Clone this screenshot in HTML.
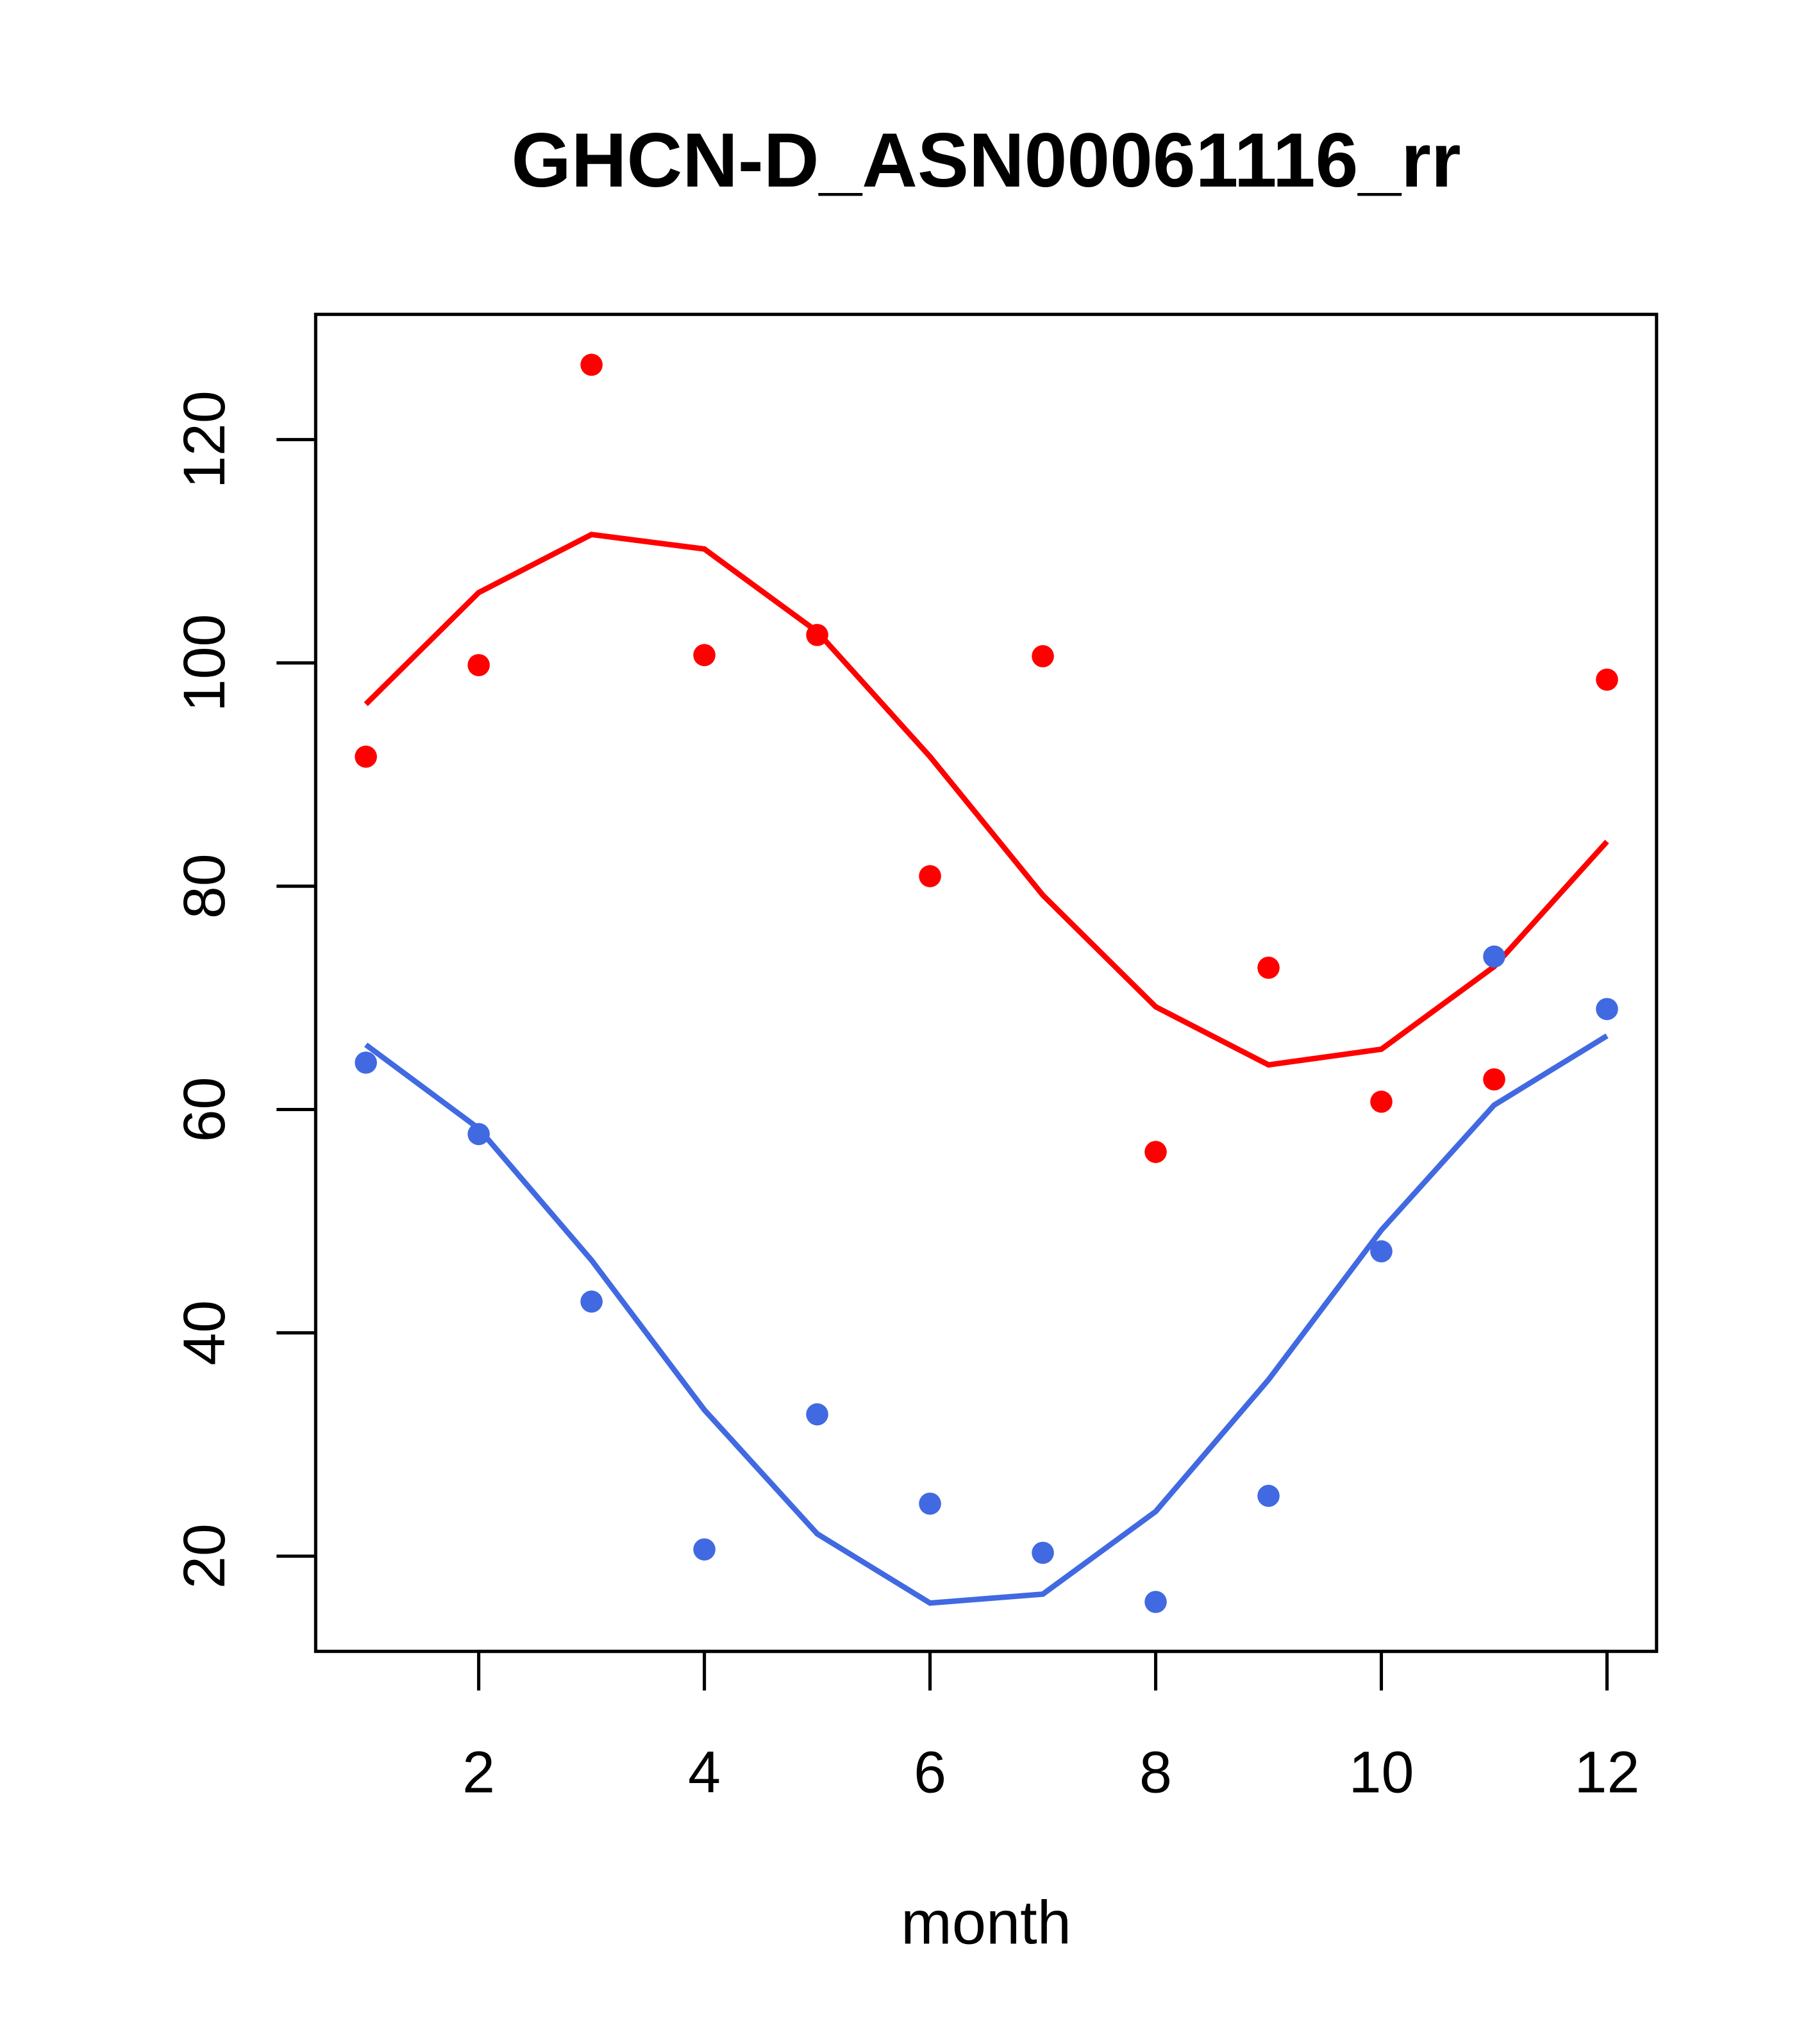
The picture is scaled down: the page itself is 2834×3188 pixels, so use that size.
<!DOCTYPE html>
<html><head><meta charset="utf-8"><style>html,body{margin:0;padding:0;background:#fff}svg{display:block}</style></head>
<body>
<svg id="chart" width="2834" height="3188" viewBox="0 0 1393 1567" preserveAspectRatio="none" xmlns="http://www.w3.org/2000/svg" font-family="'Liberation Sans', sans-serif">
<rect width="1393" height="1567" fill="#fff"/>
<text x="756" y="143" text-anchor="middle" font-size="59" font-weight="bold">GHCN-D_ASN00061116_rr</text>
<rect x="242" y="241" width="1028" height="1025" fill="none" stroke="#000" stroke-width="2.5"/>
<g id="xaxis"></g>
<g id="yaxis"></g>
<text x="756" y="1490" text-anchor="middle" font-size="47">month</text>
<g id="series"></g>
</svg>
<script>
const months=[1,2,3,4,5,6,7,8,9,10,11,12];
const redPoints=[91.6,99.8,126.7,100.7,102.5,80.9,100.6,56.2,72.7,60.7,62.7,98.5];
const redLine=[96.3,106.3,111.5,110.2,102.8,91.6,79.2,69.2,64.0,65.4,72.8,84.0];
const bluePoints=[64.2,57.8,42.8,20.6,32.7,24.7,20.3,15.9,25.4,47.3,73.7,69.0];
const blueLine=[65.8,58.3,46.5,33.1,22.0,15.8,16.6,24.0,35.8,49.2,60.4,66.6];
const xTicks=[2,4,6,8,10,12];
const yTicks=[20,40,60,80,100,120];
const NS="http://www.w3.org/2000/svg";
function X(m){return 367+(m-2)*86.5;}
function Y(v){return 1193-(v-20)*8.56;}
function mk(t,a,p){const e=document.createElementNS(NS,t);for(const k in a)e.setAttribute(k,a[k]);p.appendChild(e);return e;}
const xa=document.getElementById('xaxis'),ya=document.getElementById('yaxis'),s=document.getElementById('series');
xTicks.forEach(t=>{
  const l=mk('line',{x1:X(t),x2:X(t),y1:1266,y2:1296,stroke:'#000','stroke-width':2.5},xa);
  
  
  const tx=mk('text',{x:X(t),y:1374,'text-anchor':'middle','font-size':45},xa);
  tx.textContent=t;
  
  
});
mk('line',{x1:X(2),x2:X(12),y1:1266,y2:1266,stroke:'#000','stroke-width':2.5},xa);
yTicks.forEach(t=>{
  const l=mk('line',{x1:212,x2:242,y1:Y(t),y2:Y(t),stroke:'#000','stroke-width':2.5},ya);
  
  
  const tx=mk('text',{x:0,y:0,'text-anchor':'middle','font-size':45,transform:`translate(172,${Y(t)}) rotate(-90)`},ya);
  tx.textContent=t;
  
  
});
function line(vals,col,name){
  const p=mk('polyline',{points:months.map((m,i)=>X(m)+','+Y(vals[i])).join(' '),fill:'none',stroke:col,'stroke-width':4.2},s);
  
  
}
function pts(vals,col,name){
  months.forEach((m,i)=>{
    const c=mk('circle',{cx:X(m),cy:Y(vals[i]),r:8.5,fill:col},s);
    
    
  });
}
line(redLine,'#ff0000','red-line');
line(blueLine,'#4169e1','blue-line');
pts(redPoints,'#ff0000','red-point');
pts(bluePoints,'#4169e1','blue-point');
</script>
</body></html>
